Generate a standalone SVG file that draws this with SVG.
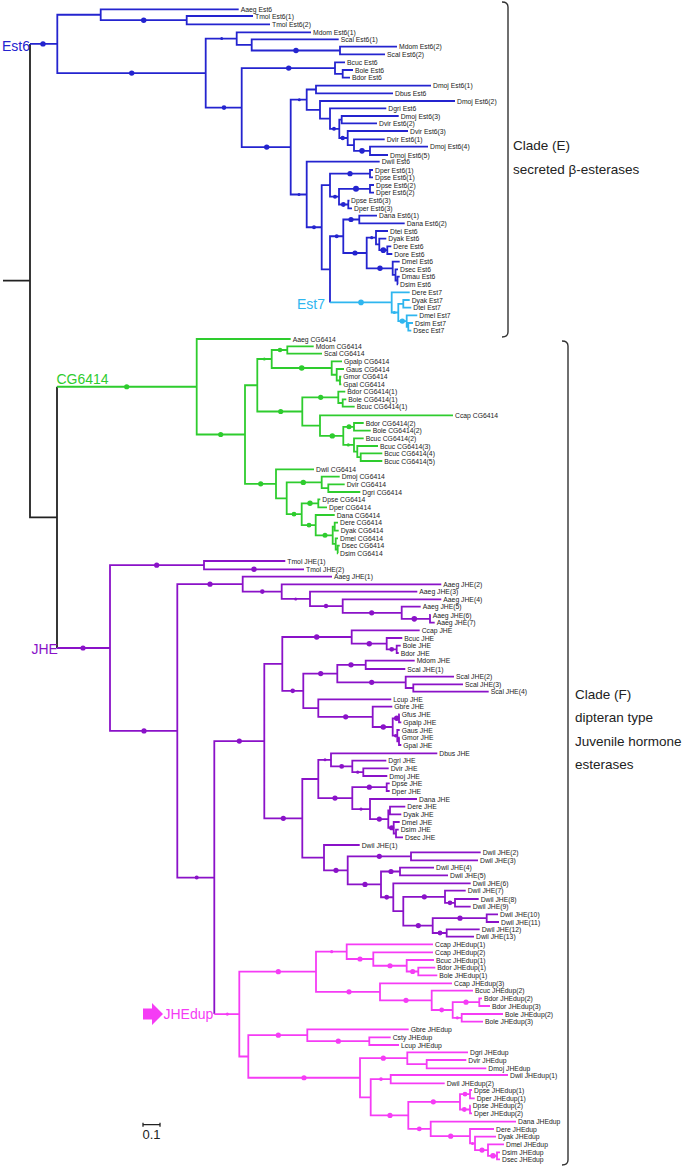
<svg xmlns="http://www.w3.org/2000/svg" width="685" height="1168" viewBox="0 0 685 1168">
<style>
text{font-family:"Liberation Sans",Arial,sans-serif;}
.t{font-size:6.8px;fill:#222;dominant-baseline:central;}
.big{font-size:14px;}
.cl{font-size:13.5px;fill:#222;}
path{fill:none;stroke-width:1.8;stroke-linejoin:miter;stroke-linecap:butt;}
.k{stroke:#222;}
.b{stroke:#2424cf;}
.lb{stroke:#2fb6ef;}
.g{stroke:#2ecc2e;}
.p{stroke:#8a12c8;}
.m{stroke:#f53cf5;}
.br{stroke:#333;stroke-width:1.4;}
.db{fill:#2424cf;}
.dlb{fill:#2fb6ef;}
.dg{fill:#2ecc2e;}
.dp{fill:#8a12c8;}
.dm{fill:#f53cf5;}
</style>
<rect width="685" height="1168" fill="#fff"/>
<g id="connectors">
<path class="k" d="M3 280.65H30M30 43.9V517.4H57M57 386.75V648"/>
<g id="est6-branches">
<path class="b" d="M30 43.9H57.3M100.7 14.75H57.3V73.1H205.7M238.7 9.3H100.7V20.2H186.7M253 16H186.7V24.3H270M397 46.7H340V54.3H385M338.7 39.3H251.7V50.5H340M311 32.3H236.7V44.9H251.7M353 70H342.7V77.7H350M345 62.3H335V73.85H342.7M431 85.7H316V93.3H393M398.7 116H341.7V123.3H377M428 146.7H370V155H388M384.7 139.3H354V150.85H370M408 131H347.7V145.1H354M341.7 119.65H339.3V138H347.7M386.3 108.3H330V128.8H339.3M455 101H320V118.55H330M316 89.5H306.7V109.8H320M373 170H370V177.3H373M374 185H370V192.7H374M349.5 200.7H348.3V208.3H352M370 188.85H339V204.5H348.3M370 173.65H330V196.7H339M377 215.7H359.3V223.3H404.7M391.3 246.3H387.3V254H392.3M386.3 238.7H379.3V250.15H387.3M388 231H376V244.4H379.3M399.7 276.7H397.5V284.3H398M398 269.3H395.5V280.5H397.5M399.7 261.7H392.7V274.9H395.5M376 237.7H366.7V268.3H392.7M359.3 219.5H343.3V253H366.7M343.3 236.25H330V302.4M330 185.2H321.7V269.3H330M379.7 161.7H306.7V227.25H321.7M306.7 99.65H290.7V194.5H306.7M335 68.1H241.7V147.1H290.7M236.7 38.6H205.7V107.6H241.7"/>
<path class="lb" d="M330 302.4H391.7M409.7 292.3H391.7V312.5H398.3M403.3 303.85H398.3V321.1H406.7M409.7 300H403.3V307.7H411.3M417.3 315.3H406.7V326.85H408.3M413 323H408.3V330.7H411.3"/>
</g>
<g id="cg6414-branches">
<path class="g" d="M57 386.75H196.7M290.7 339H196.7V434.5H245M257.3 385.25H245V483.8H276M313.7 346.3H287.3V353.7H322M341.3 376.7H340V384.3H341.3M344 369H336.7V380.5H340M342 361.3H331.7V374.75H336.7M287.3 350H271.7V368H331.7M346.3 399.3H342.7V406.7H354.7M345.3 391.7H338.3V403H342.7M363.7 423H354V430.7H370.7M382.3 453.3H360.7V461H382.3M378 446H357.3V457.15H360.7M363.7 438.3H354V451.6H357.3M354 426.85H343.3V444.95H354M453 415.3H320V435.9H343.3M338.3 397.35H302.3V425.6H320M271.7 359H257.3V411.5H302.3M344.7 484.3H328.3V492H360.3M339.7 476.7H321.7V488.15H328.3M320.3 499.3H318.3V507.3H327M338 522.7H334.7V530.7H338.7M339.7 545.7H337.7V553.3H338M338 538.3H335.7V549.5H337.7M334.7 526.7H332.7V543.9H335.7M334.7 515H315.7V535.3H332.7M318.3 503.3H301.7V525.15H315.7M321.7 482.4H286.7V514.2H301.7M314 469.3H276V498.3H286.7"/>
</g>
<g id="jhe-branches">
<path class="p" d="M57 648H110M204 565.15H110V730.9H177.3M242.7 584.15H177.3V877.6H214.3M264.3 741.1H214.3V1014.1M285.3 561H204V569.3H304M430.7 615H430V622.7H434.7M420.7 606.7H401.7V618.85H430M441.3 599.3H342.7V612.8H401.7M417.3 591.7H310V606.05H342.7M441.3 584.3H281.7V598.9H310M332 576.7H242.7V591.6H281.7M400.7 645.7H396.7V653H398.7M402.3 638H386.7V649.35H396.7M419.7 630.3H351.7V643.7H386.7M414.7 660.7H365.7V669H405.3M463 684.3H413.3V691.7H488.7M454 676.7H405.7V688H413.3M365.7 664.85H337.3V682.35H405.7M399.7 714.3H399V722.3H401.3M399.7 737.7H399V745H401.3M399.7 730H397.3V741.35H399M399 718.3H392.7V735.7H397.3M392.3 706.7H372.7V727H392.7M391.3 699.3H318.3V716.85H372.7M337.3 673.6H303.3V708.1H318.3M351.7 637H282.3V690.85H303.3M388.7 768.3H363.3V776H387.3M386.3 760.7H352.3V772.15H363.3M437.3 753.3H331V766.4H352.3M389.7 783.3H386.7V791H389.7M398.7 829.7H396V837.3H403M399.7 822H393.7V833.5H396M405.3 806.7H390V814.3H401.3M390 810.5H388.3V827.75H393.7M417 799H370V819.1H388.3M386.7 787.15H352.3V809.05H370M331 759.85H318.3V798.1H352.3M498 914.3H486.7V922H499M479.7 929.3H446.7V936.7H474M486.7 918.15H432.7V933H446.7M478.7 899H455V906.7H470.7M465.7 890.7H445V902.85H455M445 896.8H403.3V925.6H432.7M470.7 883.3H393.3V911.2H403.3M434 867.7H400V875.3H448M400 871.5H381V897.25H393.3M480.7 852.3H411V860.3H478M411 856.3H347.7V884.4H381M359.7 845H324V870.35H347.7M318.3 779H302.3V857.7H324M282.3 663.9H264.3V818.35H302.3"/>
</g>
<g id="jhedup-branches">
<path class="m" d="M214.3 1014.1H239.3M316 971.7H239.3V1056.5H248.3M435.3 967.7H418.3V975.3H437.3M434 960H406.7V971.5H418.3M433 952.3H373.3V965.75H406.7M433 944.3H346.7V959H373.3M482 998.3H479.3V1006H490M503 1014H461.7V1021.7H483M479.3 1002.15H452.7V1017.85H461.7M473 990.7H431.7V1010H452.7M452 983.3H380V1000.35H431.7M346.7 951.65H316V991.8H380M390.7 1037.3H369.3V1045H399M408.7 1029.3H307.3V1041.15H369.3M466.3 1060H426.7V1068.3H486.3M468 1052.3H407.3V1064.15H426.7M508 1075H390.7V1083.3H444.7M472 1090H470V1098.3H474.7M470.7 1105.7H470V1113.3H472M470 1094.15H460V1109.5H470M500 1152.3H497V1159.3H500M504 1144.3H488V1155.8H497M496 1136.7H475V1150.05H488M494 1129H470V1143.4H475M516 1121.7H430.7V1136.2H470M460 1101.8H408.3V1128.95H430.7M390.7 1079.15H370.7V1115.4H408.3M407.3 1058.2H360V1097.3H370.7M307.3 1035.2H248.3V1077.75H360"/>
</g>
<g id="dots">
<g class="db"><circle cx="43" cy="43.9" r="2.7"/><circle cx="131.7" cy="73.1" r="2.7"/><circle cx="143.7" cy="20.2" r="2.7"/><circle cx="296" cy="50.5" r="2.7"/><circle cx="288.7" cy="68.1" r="2.7"/><circle cx="266.7" cy="147.1" r="2.7"/><circle cx="224" cy="107.6" r="2.3"/><circle cx="334" cy="128.8" r="2"/><circle cx="342.7" cy="138" r="2.2"/><circle cx="362" cy="150.85" r="2.8"/><circle cx="350" cy="173.65" r="2.6"/><circle cx="356" cy="188.85" r="3"/><circle cx="343.3" cy="204.5" r="2.4"/><circle cx="335" cy="196.7" r="2"/><circle cx="314" cy="227.25" r="2"/><circle cx="351" cy="219.5" r="2.6"/><circle cx="355" cy="253" r="2.6"/><circle cx="383.3" cy="250.15" r="2.8"/><circle cx="380" cy="268.3" r="2.7"/><circle cx="336.7" cy="236.25" r="2"/><circle cx="221.7" cy="38.6" r="1.5"/><circle cx="299.3" cy="99.65" r="1.5"/><circle cx="299" cy="194.5" r="1.5"/><circle cx="371.7" cy="237.7" r="1.6"/></g>
<g class="dlb"><circle cx="361" cy="302.4" r="2.8"/><circle cx="394.3" cy="312.5" r="1.6"/><circle cx="402.3" cy="321.1" r="2.7"/></g>
<g class="dg"><circle cx="126.7" cy="386.75" r="2.6"/><circle cx="220.7" cy="434.5" r="2.6"/><circle cx="264.3" cy="359" r="1.5"/><circle cx="280" cy="350" r="2.3"/><circle cx="301.7" cy="368" r="2.8"/><circle cx="280.7" cy="411.5" r="2.6"/><circle cx="320.7" cy="397.35" r="2.6"/><circle cx="332.3" cy="435.9" r="2.7"/><circle cx="349" cy="426.85" r="2.5"/><circle cx="348.3" cy="444.95" r="1.6"/><circle cx="260.7" cy="483.8" r="2.6"/><circle cx="303.3" cy="482.4" r="2.7"/><circle cx="294" cy="514.2" r="2.4"/><circle cx="310" cy="503.3" r="2.7"/><circle cx="309" cy="525.15" r="2.4"/><circle cx="325" cy="535.3" r="2.5"/></g>
<g class="dp"><circle cx="83" cy="648" r="2.6"/><circle cx="156.7" cy="565.15" r="2.6"/><circle cx="144" cy="730.9" r="2.6"/><circle cx="254" cy="569.3" r="2.7"/><circle cx="210" cy="584.15" r="2.6"/><circle cx="196.7" cy="877.6" r="2"/><circle cx="262.3" cy="591.6" r="2.3"/><circle cx="295.7" cy="598.9" r="1.5"/><circle cx="326" cy="606.05" r="2.2"/><circle cx="371.7" cy="612.8" r="2.6"/><circle cx="414.3" cy="618.85" r="2.8"/><circle cx="239.3" cy="741.1" r="2.6"/><circle cx="316.7" cy="637" r="2.7"/><circle cx="369.3" cy="643.7" r="2.7"/><circle cx="391.7" cy="649.35" r="2.4"/><circle cx="292.7" cy="690.85" r="2.3"/><circle cx="320.7" cy="673.6" r="2.6"/><circle cx="351" cy="664.85" r="2.7"/><circle cx="371.7" cy="682.35" r="2.6"/><circle cx="345.7" cy="716.85" r="2.6"/><circle cx="383.3" cy="727" r="2.7"/><circle cx="396.7" cy="718.3" r="2.7"/><circle cx="395.7" cy="735.7" r="1.8"/><circle cx="283.3" cy="818.35" r="2.6"/><circle cx="325" cy="759.85" r="1.5"/><circle cx="341.7" cy="766.4" r="2.4"/><circle cx="357.7" cy="772.15" r="1.6"/><circle cx="335" cy="798.1" r="2.6"/><circle cx="369.3" cy="787.15" r="2.6"/><circle cx="361" cy="809.05" r="1.6"/><circle cx="379.3" cy="819.1" r="2.6"/><circle cx="391.7" cy="827.75" r="2.6"/><circle cx="336" cy="870.35" r="2.6"/><circle cx="379.3" cy="856.3" r="2.6"/><circle cx="365" cy="884.4" r="2.6"/><circle cx="391" cy="871.5" r="2.6"/><circle cx="386.7" cy="897.25" r="2.4"/><circle cx="424.3" cy="896.8" r="2.6"/><circle cx="450" cy="902.85" r="2.4"/><circle cx="418.3" cy="925.6" r="2.6"/><circle cx="460" cy="918.15" r="2.6"/><circle cx="440" cy="933" r="2.4"/></g>
<g class="dm"><circle cx="227.3" cy="1014.1" r="1.6"/><circle cx="278.3" cy="971.7" r="2.6"/><circle cx="331.7" cy="951.65" r="1.6"/><circle cx="349" cy="991.8" r="2.6"/><circle cx="360" cy="959" r="2.6"/><circle cx="390" cy="965.75" r="2.6"/><circle cx="412.7" cy="971.5" r="2.6"/><circle cx="406" cy="1000.35" r="2.6"/><circle cx="441.7" cy="1010" r="2.4"/><circle cx="466" cy="1002.15" r="2.6"/><circle cx="457.3" cy="1017.85" r="1.7"/><circle cx="278.3" cy="1035.2" r="2.6"/><circle cx="338.3" cy="1041.15" r="2.6"/><circle cx="304" cy="1077.75" r="2.6"/><circle cx="383.3" cy="1058.2" r="2.6"/><circle cx="381" cy="1079.15" r="1.8"/><circle cx="390" cy="1115.4" r="2.6"/><circle cx="433.3" cy="1101.8" r="2.6"/><circle cx="465" cy="1094.15" r="2.4"/><circle cx="464.3" cy="1109.5" r="2.4"/><circle cx="419.3" cy="1128.95" r="2.4"/><circle cx="450.7" cy="1136.2" r="2.6"/><circle cx="472.5" cy="1143.4" r="1.5"/><circle cx="482" cy="1150.05" r="2.6"/><circle cx="493" cy="1155.8" r="2.8"/></g>
</g>
</g>
<g id="clade-labels">
<text id="lab-est6" class="big" x="2" y="51" fill="#2424cf">Est6</text>
<text id="lab-est7" class="big" x="325" y="309" fill="#2fb6ef" text-anchor="end">Est7</text>
<text id="lab-cg6414" class="big" x="56.5" y="383.5" fill="#2ecc2e">CG6414</text>
<text id="lab-jhe" class="big" x="31.5" y="654" fill="#8a12c8">JHE</text>
<g id="lab-jhedup">
<polygon points="143,1008.5 152,1008.5 152,1003 163,1014 152,1025 152,1019.5 143,1019.5" fill="#f53cf5"/>
<text class="big" x="163.5" y="1019" fill="#f53cf5">JHEdup</text>
</g>
<g id="scalebar">
<path class="k" style="stroke-width:1.3" d="M143 1124.7H160M143 1122.7V1126.7M160 1122.7V1126.7"/>
<text x="142.5" y="1139" style="font-size:13px" fill="#222">0.1</text>
</g>
</g>
<g id="clade-E">
<path class="br" d="M502 2Q508 2 508 7V332Q508 337 502 337"/>
<text class="cl" x="513" y="150">Clade (E)</text>
<text class="cl" x="513" y="173.5">secreted  β-esterases</text>
</g>
<g id="clade-F">
<path class="br" d="M562 341Q568 341 568 346V1160Q568 1165 562 1165"/>
<text class="cl" x="575" y="698.5">Clade (F)</text>
<text class="cl" x="575" y="722">dipteran type</text>
<text class="cl" x="575" y="745.5">Juvenile hormone</text>
<text class="cl" x="575" y="769">esterases</text>
</g>
<g id="leaves-est6">
<text class="t" x="240.7" y="9.3">Aaeg Est6</text>
<text class="t" x="255" y="16">Tmol Est6(1)</text>
<text class="t" x="272" y="24.3">Tmol Est6(2)</text>
<text class="t" x="313" y="32.3">Mdom Est6(1)</text>
<text class="t" x="340.7" y="39.3">Scal Est6(1)</text>
<text class="t" x="399" y="46.7">Mdom Est6(2)</text>
<text class="t" x="387" y="54.3">Scal Est6(2)</text>
<text class="t" x="347" y="62.3">Bcuc Est6</text>
<text class="t" x="355" y="70">Bole Est6</text>
<text class="t" x="352" y="77.7">Bdor Est6</text>
<text class="t" x="433" y="85.7">Dmoj Est6(1)</text>
<text class="t" x="395" y="93.3">Dbus Est6</text>
<text class="t" x="457" y="101">Dmoj Est6(2)</text>
<text class="t" x="388.3" y="108.3">Dgri Est6</text>
<text class="t" x="400.7" y="116">Dmoj Est6(3)</text>
<text class="t" x="379" y="123.3">Dvir Est6(2)</text>
<text class="t" x="410" y="131">Dvir Est6(3)</text>
<text class="t" x="386.7" y="139.3">Dvir Est6(1)</text>
<text class="t" x="430" y="146.7">Dmoj Est6(4)</text>
<text class="t" x="390" y="155">Dmoj Est6(5)</text>
<text class="t" x="381.7" y="161.7">Dwil Est6</text>
<text class="t" x="375" y="170">Dper Est6(1)</text>
<text class="t" x="375" y="177.3">Dpse Est6(1)</text>
<text class="t" x="376" y="185">Dpse Est6(2)</text>
<text class="t" x="376" y="192.7">Dper Est6(2)</text>
<text class="t" x="351" y="200.7">Dpse Est6(3)</text>
<text class="t" x="354" y="208.3">Dper Est6(3)</text>
<text class="t" x="379" y="215.7">Dana Est6(1)</text>
<text class="t" x="406.7" y="223.3">Dana Est6(2)</text>
<text class="t" x="390" y="231">Dtei Est6</text>
<text class="t" x="388.3" y="238.7">Dyak Est6</text>
<text class="t" x="393.3" y="246.3">Dere Est6</text>
<text class="t" x="394.3" y="254">Dore Est6</text>
<text class="t" x="401.7" y="261.7">Dmel Est6</text>
<text class="t" x="400" y="269.3">Dsec Est6</text>
<text class="t" x="401.7" y="276.7">Dmau Est6</text>
<text class="t" x="400" y="284.3">Dsim Est6</text>
<text class="t" x="411.7" y="292.3">Dere Est7</text>
<text class="t" x="411.7" y="300">Dyak Est7</text>
<text class="t" x="413.3" y="307.7">Dtei Est7</text>
<text class="t" x="419.3" y="315.3">Dmel Est7</text>
<text class="t" x="415" y="323">Dsim Est7</text>
<text class="t" x="413.3" y="330.7">Dsec Est7</text>
</g>
<g id="leaves-cg6414">
<text class="t" x="292.7" y="339">Aaeg CG6414</text>
<text class="t" x="315.7" y="346.3">Mdom CG6414</text>
<text class="t" x="324" y="353.7">Scal CG6414</text>
<text class="t" x="344" y="361.3">Gpalp CG6414</text>
<text class="t" x="346" y="369">Gaus CG6414</text>
<text class="t" x="343.3" y="376.7">Gmor CG6414</text>
<text class="t" x="343.3" y="384.3">Gpal CG6414</text>
<text class="t" x="347.3" y="391.7">Bdor CG6414(1)</text>
<text class="t" x="348.3" y="399.3">Bole CG6414(1)</text>
<text class="t" x="356.7" y="406.7">Bcuc CG6414(1)</text>
<text class="t" x="455" y="415.3">Ccap CG6414</text>
<text class="t" x="365.7" y="423">Bdor CG6414(2)</text>
<text class="t" x="372.7" y="430.7">Bole CG6414(2)</text>
<text class="t" x="365.7" y="438.3">Bcuc CG6414(2)</text>
<text class="t" x="380" y="446">Bcuc CG6414(3)</text>
<text class="t" x="384.3" y="453.3">Bcuc CG6414(4)</text>
<text class="t" x="384.3" y="461">Bcuc CG6414(5)</text>
<text class="t" x="316" y="469.3">Dwil CG6414</text>
<text class="t" x="341.7" y="476.7">Dmoj CG6414</text>
<text class="t" x="346.7" y="484.3">Dvir CG6414</text>
<text class="t" x="362.3" y="492">Dgri CG6414</text>
<text class="t" x="322.3" y="499.3">Dpse CG6414</text>
<text class="t" x="329" y="507.3">Dper CG6414</text>
<text class="t" x="336.7" y="515">Dana CG6414</text>
<text class="t" x="340" y="522.7">Dere CG6414</text>
<text class="t" x="340.7" y="530.7">Dyak CG6414</text>
<text class="t" x="340" y="538.3">Dmel CG6414</text>
<text class="t" x="341.7" y="545.7">Dsec CG6414</text>
<text class="t" x="340" y="553.3">Dsim CG6414</text>
</g>
<g id="leaves-jhe">
<text class="t" x="287.3" y="561">Tmol JHE(1)</text>
<text class="t" x="306" y="569.3">Tmol JHE(2)</text>
<text class="t" x="334" y="576.7">Aaeg JHE(1)</text>
<text class="t" x="443.3" y="584.3">Aaeg JHE(2)</text>
<text class="t" x="419.3" y="591.7">Aaeg JHE(3)</text>
<text class="t" x="443.3" y="599.3">Aaeg JHE(4)</text>
<text class="t" x="422.7" y="606.7">Aaeg JHE(5)</text>
<text class="t" x="432.7" y="615">Aaeg JHE(6)</text>
<text class="t" x="436.7" y="622.7">Aaeg JHE(7)</text>
<text class="t" x="421.7" y="630.3">Ccap JHE</text>
<text class="t" x="404.3" y="638">Bcuc JHE</text>
<text class="t" x="402.7" y="645.7">Bole JHE</text>
<text class="t" x="400.7" y="653">Bdor JHE</text>
<text class="t" x="416.7" y="660.7">Mdom JHE</text>
<text class="t" x="407.3" y="669">Scal JHE(1)</text>
<text class="t" x="456" y="676.7">Scal JHE(2)</text>
<text class="t" x="465" y="684.3">Scal JHE(3)</text>
<text class="t" x="490.7" y="691.7">Scal JHE(4)</text>
<text class="t" x="393.3" y="699.3">Lcup JHE</text>
<text class="t" x="394.3" y="706.7">Gbre JHE</text>
<text class="t" x="401.7" y="714.3">Gfus JHE</text>
<text class="t" x="403.3" y="722.3">Gpalp JHE</text>
<text class="t" x="401.7" y="730">Gaus JHE</text>
<text class="t" x="401.7" y="737.7">Gmor JHE</text>
<text class="t" x="403.3" y="745">Gpal JHE</text>
<text class="t" x="439.3" y="753.3">Dbus JHE</text>
<text class="t" x="388.3" y="760.7">Dgri JHE</text>
<text class="t" x="390.7" y="768.3">Dvir JHE</text>
<text class="t" x="389.3" y="776">Dmoj JHE</text>
<text class="t" x="391.7" y="783.3">Dpse JHE</text>
<text class="t" x="391.7" y="791">Dper JHE</text>
<text class="t" x="419" y="799">Dana JHE</text>
<text class="t" x="407.3" y="806.7">Dere JHE</text>
<text class="t" x="403.3" y="814.3">Dyak JHE</text>
<text class="t" x="401.7" y="822">Dmel JHE</text>
<text class="t" x="400.7" y="829.7">Dsim JHE</text>
<text class="t" x="405" y="837.3">Dsec JHE</text>
<text class="t" x="361.7" y="845">Dwil JHE(1)</text>
<text class="t" x="482.7" y="852.3">Dwil JHE(2)</text>
<text class="t" x="480" y="860.3">Dwil JHE(3)</text>
<text class="t" x="436" y="867.7">Dwil JHE(4)</text>
<text class="t" x="450" y="875.3">Dwil JHE(5)</text>
<text class="t" x="472.7" y="883.3">Dwil JHE(6)</text>
<text class="t" x="467.7" y="890.7">Dwil JHE(7)</text>
<text class="t" x="480.7" y="899">Dwil JHE(8)</text>
<text class="t" x="472.7" y="906.7">Dwil JHE(9)</text>
<text class="t" x="500" y="914.3">Dwil JHE(10)</text>
<text class="t" x="501" y="922">Dwil JHE(11)</text>
<text class="t" x="481.7" y="929.3">Dwil JHE(12)</text>
<text class="t" x="476" y="936.7">Dwil JHE(13)</text>
</g>
<g id="leaves-jhedup">
<text class="t" x="435" y="944.3">Ccap JHEdup(1)</text>
<text class="t" x="435" y="952.3">Ccap JHEdup(2)</text>
<text class="t" x="436" y="960">Bcuc JHEdup(1)</text>
<text class="t" x="437.3" y="967.7">Bdor JHEdup(1)</text>
<text class="t" x="439.3" y="975.3">Bole JHEdup(1)</text>
<text class="t" x="454" y="983.3">Ccap JHEdup(3)</text>
<text class="t" x="475" y="990.7">Bcuc JHEdup(2)</text>
<text class="t" x="484" y="998.3">Bdor JHEdup(2)</text>
<text class="t" x="492" y="1006">Bdor JHEdup(3)</text>
<text class="t" x="505" y="1014">Bole JHEdup(2)</text>
<text class="t" x="485" y="1021.7">Bole JHEdup(3)</text>
<text class="t" x="410.7" y="1029.3">Gbre JHEdup</text>
<text class="t" x="392.7" y="1037.3">Csty JHEdup</text>
<text class="t" x="401" y="1045">Lcup JHEdup</text>
<text class="t" x="470" y="1052.3">Dgri JHEdup</text>
<text class="t" x="468.3" y="1060">Dvir JHEdup</text>
<text class="t" x="488.3" y="1068.3">Dmoj JHEdup</text>
<text class="t" x="510" y="1075">Dwil JHEdup(1)</text>
<text class="t" x="446.7" y="1083.3">Dwil JHEdup(2)</text>
<text class="t" x="474" y="1090">Dpse JHEdup(1)</text>
<text class="t" x="476.7" y="1098.3">Dper JHEdup(1)</text>
<text class="t" x="472.7" y="1105.7">Dpse JHEdup(2)</text>
<text class="t" x="474" y="1113.3">Dper JHEdup(2)</text>
<text class="t" x="518" y="1121.7">Dana JHEdup</text>
<text class="t" x="496" y="1129">Dere JHEdup</text>
<text class="t" x="498" y="1136.7">Dyak JHEdup</text>
<text class="t" x="506" y="1144.3">Dmel JHEdup</text>
<text class="t" x="502" y="1152.3">Dsim JHEdup</text>
<text class="t" x="502" y="1159.3">Dsec JHEdup</text>
</g>
</svg>
